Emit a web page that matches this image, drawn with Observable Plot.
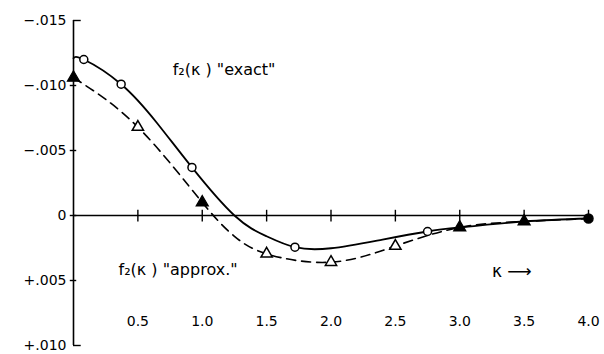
<!DOCTYPE html>
<html>
<head>
<meta charset="utf-8">
<script src="https://cdn.jsdelivr.net/npm/d3@7"></script>
<script src="https://cdn.jsdelivr.net/npm/@observablehq/plot@0.6"></script>
<style>
  html, body { margin: 0; padding: 0; background: #fff; }
  #chart svg { display: block; }
</style>
</head>
<body>
<div id="chart"></div>
<script>
// ---- data ----
// "exact" curve (solid)
const exactK = [0, 0.08, 0.37, 0.65, 0.92, 1.25, 1.5, 1.72, 2.0, 2.4, 2.75, 3.0, 3.5, 4.0];
const exactF = [-0.0121, -0.0120, -0.0101, -0.0071, -0.0037, 0.0, 0.0016, 0.00244, 0.00252, 0.00185, 0.00123, 0.00092, 0.00046, 0.00023];
// "approx." curve (dashed)
const approxK = [0, 0.5, 1.0, 1.25, 1.5, 2.0, 2.5, 3.0, 3.5, 4.0];
const approxF = [-0.0106, -0.0068, -0.001, 0.0016, 0.00295, 0.00359, 0.00235, 0.00092, 0.00046, 0.00023];

// plotted markers
const exactCircleK = [0.08, 0.37, 0.92, 1.72, 2.75];
const exactCircleF = [-0.0120, -0.0101, -0.0037, 0.00244, 0.00123];
const approxOpenK = [0.5, 1.5, 2.0, 2.5];
const approxOpenF = [-0.0068, 0.00295, 0.00359, 0.00235];
const filledTriK = [0, 1.0, 3.0, 3.5];
const filledTriF = [-0.0106, -0.001, 0.00092, 0.00046];
const filledDotK = [4.0];
const filledDotF = [0.00023];

// axes
const xTicks = [0.5, 1.0, 1.5, 2.0, 2.5, 3.0, 3.5, 4.0];
const xTickLabels = ["0.5", "1.0", "1.5", "2.0", "2.5", "3.0", "3.5", "4.0"];
const yTicks = [-0.015, -0.010, -0.005, 0, 0.005, 0.010];
const yTickLabels = ["\u2212.015", "\u2212.010", "\u2212.005", "0", "+.005", "+.010"];

const exact = exactK.map((k, i) => ({k, f: exactF[i]}));
const approx = approxK.map((k, i) => ({k, f: approxF[i]}));
const pts = (ks, fs) => ks.map((k, i) => ({k, f: fs[i]}));

const font = "DejaVu Sans, sans-serif";

const chart = Plot.plot({
  width: 604,
  height: 354,
  marginLeft: 73,
  marginRight: 16,
  marginTop: 20,
  marginBottom: 9,
  style: {fontFamily: font, background: "#fff", color: "#000"},
  x: {domain: [0, 4], axis: null},
  y: {domain: [0.010, -0.015], axis: null},
  marks: [
    // axis lines
    Plot.ruleX([0], {stroke: "#000", strokeWidth: 1.6}),
    Plot.ruleY([0], {stroke: "#000", strokeWidth: 1.6}),
    // y ticks
    Plot.ruleY(yTicks, {
      y: d => d,
      x1: (d, i) => (i === 0 || i === yTicks.length - 1) ? 0 : -0.025,
      x2: (d, i) => (i === 0 || i === yTicks.length - 1) ? 0.06 : 0.025,
      stroke: "#000", strokeWidth: 1.4
    }),
    Plot.text(yTicks, {
      y: d => d, text: (d, i) => yTickLabels[i],
      frameAnchor: "left", textAnchor: "end", dx: -7,
      fontSize: 14, fill: "#000"
    }),
    // x ticks on the zero line
    Plot.ruleX(xTicks, {x: d => d, y1: -0.0004, y2: 0.0005, stroke: "#000", strokeWidth: 1.4}),
    Plot.text(xTicks, {
      x: d => d, text: (d, i) => xTickLabels[i],
      frameAnchor: "bottom", dy: -20, fontSize: 14, fill: "#000"
    }),
    // curves
    Plot.line(exact, {x: "k", y: "f", curve: "natural", stroke: "#000", strokeWidth: 1.8}),
    Plot.line(approx, {x: "k", y: "f", curve: "natural", stroke: "#000", strokeWidth: 1.6, strokeDasharray: "9,6"}),
    // markers
    Plot.dot(pts(exactCircleK, exactCircleF), {x: "k", y: "f", r: 4, stroke: "#000", fill: "#fff", strokeWidth: 1.5}),
    Plot.dot(pts(approxOpenK, approxOpenF), {x: "k", y: "f", r: 4.2, symbol: "triangle", stroke: "#000", fill: "#fff", strokeWidth: 1.5}),
    Plot.dot(pts(filledTriK, filledTriF), {x: "k", y: "f", r: 4.5, symbol: "triangle", stroke: "#000", fill: "#000", strokeWidth: 1.2}),
    Plot.dot(pts(filledDotK, filledDotF), {x: "k", y: "f", r: 4.5, stroke: "#000", fill: "#000"}),
    // labels
    Plot.text(["f\u2082(\u03BA ) \"exact\""], {x: 0.77, y: -0.0112, text: d => d, textAnchor: "start", fontSize: 16, fill: "#000"}),
    Plot.text(["f\u2082(\u03BA ) \"approx.\""], {x: 0.35, y: 0.0042, text: d => d, textAnchor: "start", fontSize: 16, fill: "#000"}),
    Plot.text(["\u03BA \u27F6"], {x: 3.25, y: 0.0043, text: d => d, textAnchor: "start", fontSize: 17, fill: "#000"})
  ]
});
document.getElementById("chart").appendChild(chart);
</script>
</body>
</html>
